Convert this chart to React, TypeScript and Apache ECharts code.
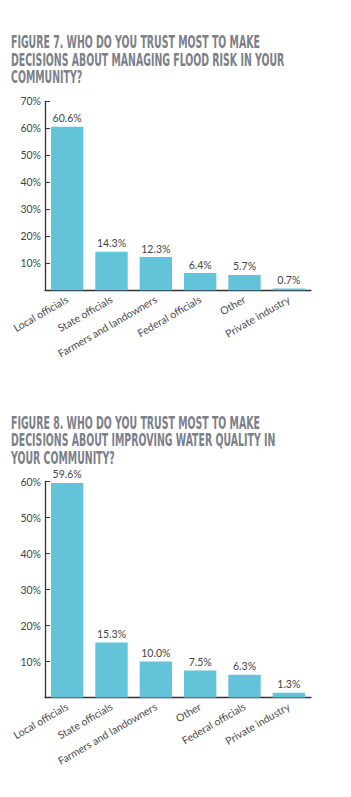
import React, { useEffect, useRef } from "react";
import * as echarts from "echarts";

const titles7 = [
  "FIGURE 7. WHO DO YOU TRUST MOST TO MAKE",
  "DECISIONS ABOUT MANAGING FLOOD RISK IN YOUR",
  "COMMUNITY?",
];
const titles8 = [
  "FIGURE 8. WHO DO YOU TRUST MOST TO MAKE",
  "DECISIONS ABOUT IMPROVING WATER QUALITY IN",
  "YOUR COMMUNITY?",
];
const categories7 = [
  "Local officials",
  "State officials",
  "Farmers and landowners",
  "Federal officials",
  "Other",
  "Private industry",
];
const values7 = [60.6, 14.3, 12.3, 6.4, 5.7, 0.7];
const categories8 = [
  "Local officials",
  "State officials",
  "Farmers and landowners",
  "Other",
  "Federal officials",
  "Private industry",
];
const values8 = [59.6, 15.3, 10.0, 7.5, 6.3, 1.3];
const yMax7 = 70;
const yMax8 = 60;
const yStep = 10;

const BAR = "#63c3d9";
const AXIS = "#333333";
const TEXT = "#444444";
const TITLE = "#7b8089";
const TITLE_FONT = "'DejaVu Sans Condensed', 'Liberation Sans Narrow', 'DejaVu Sans', sans-serif";
const LABEL_FONT = "Lato, 'Open Sans', sans-serif";

export default function App() {
  const ref = useRef<HTMLDivElement>(null);
  useEffect(() => {
    document.body.style.margin = "0";
    if (!ref.current) return;
    const chart = echarts.init(ref.current, undefined, { renderer: "svg" });

    const canvas = document.createElement("canvas");
    const ctx = canvas.getContext("2d")!;
    const titleSize = 17.5;
    ctx.font = `bold ${titleSize}px ${TITLE_FONT}`;
    const w = ctx.measureText(titles7[0]).width || 400;
    const sx = 249 / w;

    const titleEls = (lines: string[], top: number) =>
      lines.map((t, i) => ({
        type: "text",
        x: 11,
        y: top + i * 17.5,
        scaleX: sx,
        scaleY: 1,
        style: {
          text: t,
          x: 0,
          y: 0,
          fill: TITLE,
          font: `bold ${titleSize}px ${TITLE_FONT}`,
          textVerticalAlign: "top",
        },
      }));

    const xAxis = (idx: number, cats: string[]) => ({
      type: "category",
      gridIndex: idx,
      data: cats,
      boundaryGap: true,
      axisLine: { lineStyle: { color: AXIS, width: 1.3 } },
      axisTick: { inside: true, length: 4, lineStyle: { color: AXIS } },
      axisLabel: {
        interval: 0,
        rotate: 30,
        margin: 8,
        color: "#4a4a4a",
        fontSize: 10.5,
        fontFamily: LABEL_FONT,
      },
    });
    const yAxis = (idx: number, max: number) => ({
      type: "value",
      gridIndex: idx,
      min: 0,
      max,
      interval: yStep,
      axisLine: { show: true, lineStyle: { color: AXIS, width: 1.3 } },
      axisTick: { show: true, inside: true, length: 5, lineStyle: { color: AXIS } },
      splitLine: { show: false },
      axisLabel: {
        showMinLabel: false,
        margin: 4,
        formatter: "{value}%",
        color: TEXT,
        fontSize: 10.5,
        fontFamily: LABEL_FONT,
      },
    });
    const series = (idx: number, vals: number[]) => ({
      type: "bar",
      xAxisIndex: idx,
      yAxisIndex: idx,
      data: vals,
      barCategoryGap: "27%",
      itemStyle: { color: BAR },
      label: {
        show: true,
        position: "top",
        distance: 3,
        color: TEXT,
        fontSize: 10.5,
        fontFamily: LABEL_FONT,
        formatter: (p: any) => `${Number(p.value).toFixed(1)}%`,
      },
    });

    chart.setOption({
      animation: false,
      backgroundColor: "#ffffff",
      grid: [
        { left: 45, top: 101.3, width: 266, height: 189 },
        { left: 45, top: 481.5, width: 266, height: 216 },
      ],
      xAxis: [xAxis(0, categories7), xAxis(1, categories8)],
      yAxis: [yAxis(0, yMax7), yAxis(1, yMax8)],
      series: [series(0, values7), series(1, values8)],
      graphic: [...titleEls(titles7, 33), ...titleEls(titles8, 413.5)],
    });
    return () => chart.dispose();
  }, []);
  return (
    <div
      ref={ref}
      style={{ position: "absolute", left: 0, top: 0, width: 351, height: 797 }}
    />
  );
}
